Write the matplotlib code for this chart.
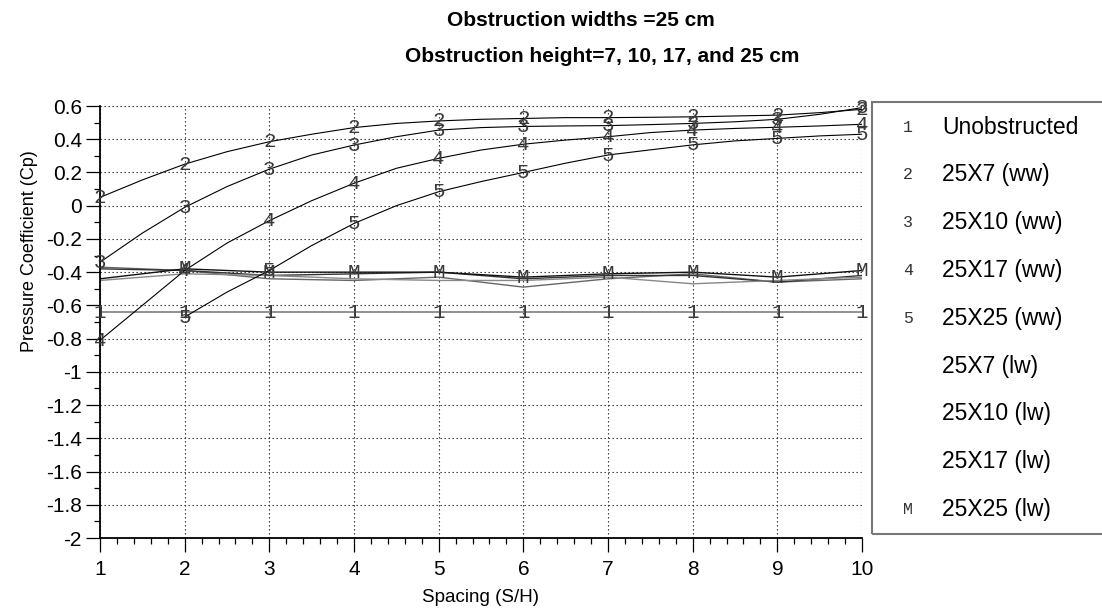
import numpy as np
import matplotlib.pyplot as plt
from matplotlib.patches import Rectangle
from matplotlib.ticker import MultipleLocator, FuncFormatter

# Spacing (S/H) - integer stations and half steps used for the windward curves
spacing = [1, 2, 3, 4, 5, 6, 7, 8, 9, 10]
spacing_fine = [1, 1.5, 2, 2.5, 3, 3.5, 4, 4.5, 5, 5.5, 6, 6.5, 7, 7.5, 8, 8.5, 9, 9.5, 10]

# Pressure coefficients
unobstructed = [-0.64, -0.64, -0.64, -0.64, -0.64, -0.64, -0.64, -0.64, -0.64, -0.64]

ww_25x7 = [0.05, 0.155, 0.25, 0.325, 0.385, 0.43, 0.47, 0.495, 0.51, 0.52,
           0.525, 0.53, 0.53, 0.532, 0.535, 0.54, 0.545, 0.56, 0.58]
ww_25x10 = [-0.34, -0.165, -0.01, 0.115, 0.22, 0.305, 0.365, 0.415, 0.455, 0.47,
            0.477, 0.48, 0.482, 0.488, 0.495, 0.505, 0.52, 0.55, 0.59]
ww_25x17 = [-0.81, -0.60, -0.39, -0.225, -0.09, 0.03, 0.135, 0.225, 0.285, 0.335,
            0.37, 0.395, 0.415, 0.44, 0.455, 0.465, 0.472, 0.48, 0.49]
ww_25x25 = [np.nan, np.nan, -0.67, -0.52, -0.39, -0.24, -0.107, 0.0, 0.084, 0.145,
            0.2, 0.256, 0.305, 0.336, 0.366, 0.39, 0.405, 0.42, 0.43]

lw_25x7 = [-0.37, -0.39, -0.44, -0.45, -0.43, -0.49, -0.44, -0.41, -0.46, -0.44]
lw_25x10 = [-0.38, -0.39, -0.42, -0.41, -0.40, -0.44, -0.42, -0.42, -0.46, -0.42]
lw_25x17 = [-0.45, -0.41, -0.42, -0.44, -0.45, -0.45, -0.43, -0.47, -0.45, -0.43]
lw_25x25 = [-0.44, -0.38, -0.40, -0.40, -0.40, -0.43, -0.41, -0.40, -0.43, -0.39]

legend_marks = ["1", "2", "3", "4", "5", "", "", "", "M"]
legend_names = ["Unobstructed", "25X7 (ww)", "25X10 (ww)", "25X17 (ww)", "25X25 (ww)",
                "25X7 (lw)", "25X10 (lw)", "25X17 (lw)", "25X25 (lw)"]

W, H = 1102, 614
fig = plt.figure(figsize=(W / 100, H / 100), dpi=100)
plt.rcParams["font.family"] = ["Liberation Sans", "DejaVu Sans"]
ax = fig.add_axes([100 / W, 1 - 538 / H, 762 / W, 432 / H])

mono = "Liberation Mono"

# leeward lines (no labels except the last one)
ax.plot(spacing, lw_25x7, color="#666666", lw=1.0)
ax.plot(spacing, lw_25x10, color="#333333", lw=1.0)
ax.plot(spacing, lw_25x17, color="#888888", lw=1.0)
ax.plot(spacing, lw_25x25, color="#111111", lw=1.0)

ax.plot(spacing, unobstructed, color="#888888", lw=1.3)

for serie in [ww_25x7, ww_25x10, ww_25x17, ww_25x25]:
    ax.plot(spacing_fine, serie, color="black", lw=0.8)

# text markers at integer spacings
marcas = [
    ("1", spacing, unobstructed, 0),
    ("2", spacing_fine[::2], ww_25x7[::2], 0),
    ("3", spacing_fine[::2], ww_25x10[::2], 0),
    ("4", spacing_fine[::2], ww_25x17[::2], 0),
    ("5", spacing_fine[::2], ww_25x25[::2], 1),
    ("M", spacing, lw_25x25, 1),
]
for letra, xs, ys, inicio in marcas:
    for xv, yv in zip(xs[inicio:], ys[inicio:]):
        ax.text(xv, yv, letra, family=mono, fontsize=15, color="#3a3a3a",
                ha="center", va="center", clip_on=False)

ax.set_xlim(1, 10)
ax.set_ylim(-2, 0.6)
ax.xaxis.set_major_locator(MultipleLocator(1))
ax.xaxis.set_minor_locator(MultipleLocator(0.2))
ax.yaxis.set_major_locator(MultipleLocator(0.2))
ax.yaxis.set_minor_locator(MultipleLocator(0.1))


def formato_y(v, pos):
    v = round(v, 1)
    if abs(v) < 1e-9:
        return "0"
    return "%g" % v


ax.yaxis.set_major_formatter(FuncFormatter(formato_y))
ax.tick_params(axis="both", which="major", direction="out", length=10, width=0.9,
               labelsize=15, colors="black")
ax.tick_params(axis="x", which="major", pad=6)
ax.tick_params(axis="y", which="major", pad=3)
ax.tick_params(axis="both", which="minor", direction="out", length=4.5, width=0.9)
ax.grid(which="major", linestyle=(0, (1.2, 2.4)), linewidth=0.8, color="#222222")
for lado in ["top", "right"]:
    ax.spines[lado].set_visible(False)
for lado in ["left", "bottom"]:
    ax.spines[lado].set_linewidth(1.3)

# titles and axis labels
fig.text(581 / W, 1 - 20 / H, "Obstruction widths =25 cm", ha="center", va="center",
         fontsize=15, fontweight="bold")
fig.text(602 / W, 1 - 57 / H, "Obstruction height=7, 10, 17, and 25 cm", ha="center",
         va="center", fontsize=15, fontweight="bold")
fig.text(481 / W, 1 - 598 / H, "Spacing (S/H)", ha="center", va="center", fontsize=13.5)
fig.text(30 / W, 1 - 251 / H, "Pressure Coefficient (Cp)", ha="center", va="center",
         rotation=90, fontsize=13)

# legend box drawn by hand
fig.patches.append(Rectangle((872 / W, 1 - 534 / H), 260 / W, 432 / H,
                             transform=fig.transFigure, fill=False,
                             edgecolor="#777777", linewidth=1.5))
for i, (marca, nombre) in enumerate(zip(legend_marks, legend_names)):
    yy = 1 - (127 + i * 47.8) / H
    fig.text(908 / W, yy, marca, family=mono, fontsize=12, color="#333333",
             ha="center", va="center")
    fig.text(942 / W, yy, nombre, fontsize=16.5, ha="left", va="center")

fig.savefig("out.png", dpi=100)
